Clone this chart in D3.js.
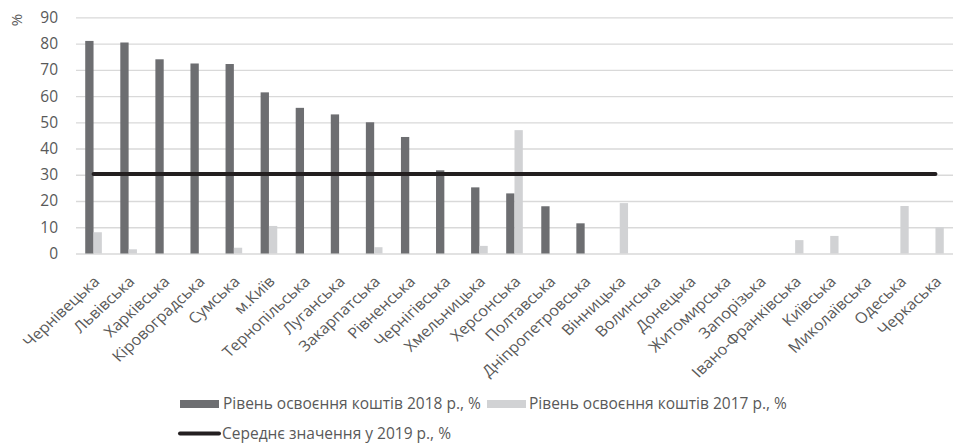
<!DOCTYPE html>
<html>
<head>
<meta charset="utf-8">
<script src="https://cdn.jsdelivr.net/npm/d3@7"></script>
<style>
  html, body { margin: 0; padding: 0; background: #fff; }
  svg { display: block; font-family: "Open Sans", sans-serif; }
</style>
</head>
<body>
<svg id="chart" width="953" height="443"></svg>
<script>
const categories = ["Чернівецька","Львівська","Харківська","Кіровоградська","Сумська","м.Київ","Тернопільська","Луганська","Закарпатська","Рівненська","Чернігівська","Хмельницька","Херсонська","Полтавська","Дніпропетровська","Вінницька","Волинська","Донецька","Житомирська","Запорізька","Івано-Франківська","Київська","Миколаївська","Одеська","Черкаська"];
const values2018 = [81.0, 80.4, 74.0, 72.4, 72.2, 61.4, 55.5, 53.0, 50.0, 44.4, 31.7, 25.2, 22.9, 18.0, 11.5, null, null, null, null, null, null, null, null, null, null];
const values2017 = [8.1, 1.6, null, null, 2.2, 10.5, null, null, 2.4, null, null, 2.9, 47.0, null, null, 19.2, null, null, null, null, 5.1, 6.7, null, 18.1, 10.0];
const average2019 = 30.3;
const yTicks = [0, 10, 20, 30, 40, 50, 60, 70, 80, 90];
const seriesNames = ["Рівень освоєння коштів 2018 р., %", "Рівень освоєння коштів 2017 р., %", "Середнє значення у 2019 р., %"];
const yLabel = "%";

const colDark = "#6d6e71", colLight = "#d1d2d4", colLine = "#231f20", colGrid = "#d9d9d9", colText = "#595959";

const svg = d3.select("#chart");
const x0 = d3.scaleBand().domain(categories).range([76, 953]).paddingInner(0).paddingOuter(0);
const bw = x0.bandwidth();
const x1 = d3.scaleBand().domain(["2018", "2017"]).range([bw / 2 - bw * 0.237, bw / 2 + bw * 0.237]);
const y = d3.scaleLinear().domain([0, 90]).range([253.5, 17.3]);

// grid
const yAxis = d3.axisLeft(y).tickValues(yTicks).tickSize(-(953 - 76)).tickPadding(18);
const gy = svg.append("g").attr("transform", "translate(76,0)").call(yAxis);
gy.select(".domain").remove();
gy.selectAll(".tick line").attr("stroke", colGrid).attr("stroke-width", 1.3);
gy.selectAll(".tick text").attr("fill", colText).attr("font-size", 15.5).attr("font-family", "Open Sans");

// y label
svg.append("text").attr("transform", "translate(22,20) rotate(-90)")
  .attr("text-anchor", "middle").attr("fill", colText).attr("font-size", 15).text(yLabel);

// bars
const g = svg.append("g");
categories.forEach((c, i) => {
  [["2018", values2018[i], colDark], ["2017", values2017[i], colLight]].forEach(([s, v, col]) => {
    if (v == null) return;
    g.append("rect")
      .attr("x", x0(c) + x1(s))
      .attr("width", x1.bandwidth())
      .attr("y", y(v))
      .attr("height", y(0) - y(v))
      .attr("fill", col);
  });
});

// average line
svg.append("line")
  .attr("x1", x0(categories[0]) + bw / 2)
  .attr("x2", x0(categories[categories.length - 1]) + bw / 2)
  .attr("y1", y(average2019)).attr("y2", y(average2019))
  .attr("stroke", colLine).attr("stroke-width", 4).attr("stroke-linecap", "round");

// x labels
const xAxis = d3.axisBottom(x0).tickSize(0).tickPadding(0);
const gx = svg.append("g").attr("transform", `translate(0,${y(0)})`).call(xAxis);
gx.select(".domain").remove();
gx.selectAll(".tick text")
  .attr("fill", colText).attr("font-size", 15).attr("font-family", "Open Sans")
  .attr("text-anchor", "end")
  .attr("dy", 0).attr("y", 0)
  .attr("transform", "translate(7,29) scale(1.08,1) rotate(-45)");

// legend
const lg = svg.append("g").attr("font-size", 15.5).attr("fill", colText);
lg.append("rect").attr("x", 180).attr("y", 400).attr("width", 39).attr("height", 8).attr("fill", colDark);
lg.append("text").attr("x", 223).attr("y", 409).text(seriesNames[0]);
lg.append("rect").attr("x", 487).attr("y", 400).attr("width", 39).attr("height", 8).attr("fill", colLight);
lg.append("text").attr("x", 529).attr("y", 409).text(seriesNames[1]);
lg.append("line").attr("x1", 180).attr("x2", 219).attr("y1", 433.5).attr("y2", 433.5)
  .attr("stroke", colLine).attr("stroke-width", 4).attr("stroke-linecap", "round");
lg.append("text").attr("x", 222).attr("y", 439).text(seriesNames[2]);
</script>
</body>
</html>
